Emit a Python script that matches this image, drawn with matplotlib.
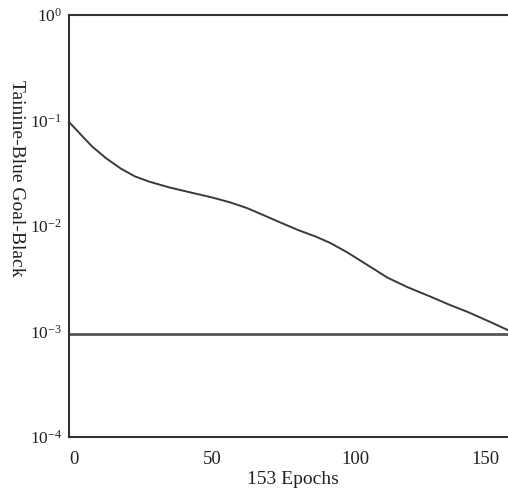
import matplotlib
matplotlib.use("Agg")
import matplotlib.pyplot as plt
from matplotlib.ticker import LogFormatterSciNotation, FixedLocator

plt.rcParams['font.family'] = ['Liberation Serif', 'DejaVu Serif']
plt.rcParams['mathtext.fontset'] = 'custom'
plt.rcParams['mathtext.rm'] = 'Liberation Serif'
plt.rcParams['mathtext.it'] = 'Liberation Serif'
plt.rcParams['axes.unicode_minus'] = False

epochs = [0, 4, 8, 13, 18, 23, 28, 35, 43, 50, 56, 62, 68, 74, 80, 86, 91, 97,
          104, 111, 118, 126, 132, 139, 146, 153]
training = [0.0968, 0.0741, 0.0569, 0.0437, 0.0351, 0.0295, 0.0263, 0.0232,
            0.0206, 0.0186, 0.0168, 0.0148, 0.0126, 0.0107, 0.00912, 0.00794,
            0.00692, 0.00562, 0.00427, 0.00324, 0.00263, 0.00214, 0.00182,
            0.00153, 0.00126, 0.00103]
goal = 0.00095
x_ticks = [0, 50, 100, 150]
y_ticks = [1e-4, 1e-3, 1e-2, 1e-1, 1e0]

fig = plt.figure(figsize=(5.08, 4.93), dpi=100)
ax = fig.add_axes([69/508, 56/493, 1 - 69/508, (437-15)/493])

ax.plot(epochs, training, color='#3a3a3a', lw=1.4)
ax.axhline(goal, color='#555555', lw=2.0)

ax.set_yscale('log')
ax.set_ylim(1e-4, 1e0)
ax.set_xlim(0, 153)
ax.yaxis.set_major_locator(FixedLocator(y_ticks))
ax.yaxis.set_major_formatter(LogFormatterSciNotation())
ax.yaxis.set_minor_locator(FixedLocator([]))
ax.set_xticks(x_ticks)
ax.tick_params(axis='both', length=0, colors='#222222')
ax.tick_params(axis='x', pad=10, labelsize=13.5)
ax.tick_params(axis='y', pad=5, labelsize=12.5)
xl = ax.get_xticklabels()
xl[0].set_horizontalalignment('left')
xl[-1].set_horizontalalignment('right')

for s in ['left', 'bottom', 'top']:
    ax.spines[s].set_color('#333333')
    ax.spines[s].set_linewidth(1.5)
ax.spines['right'].set_visible(False)

fig.text(293/508, 1 - 479/493, '153 Epochs', ha='center', va='center', fontsize=14, color='#222222')
fig.text(16/508, 1 - 178/493, 'Tainine-Blue Goal-Black', rotation=-90,
         ha='center', va='center', fontsize=14, color='#222222')

fig.savefig('out.png', dpi=100)
